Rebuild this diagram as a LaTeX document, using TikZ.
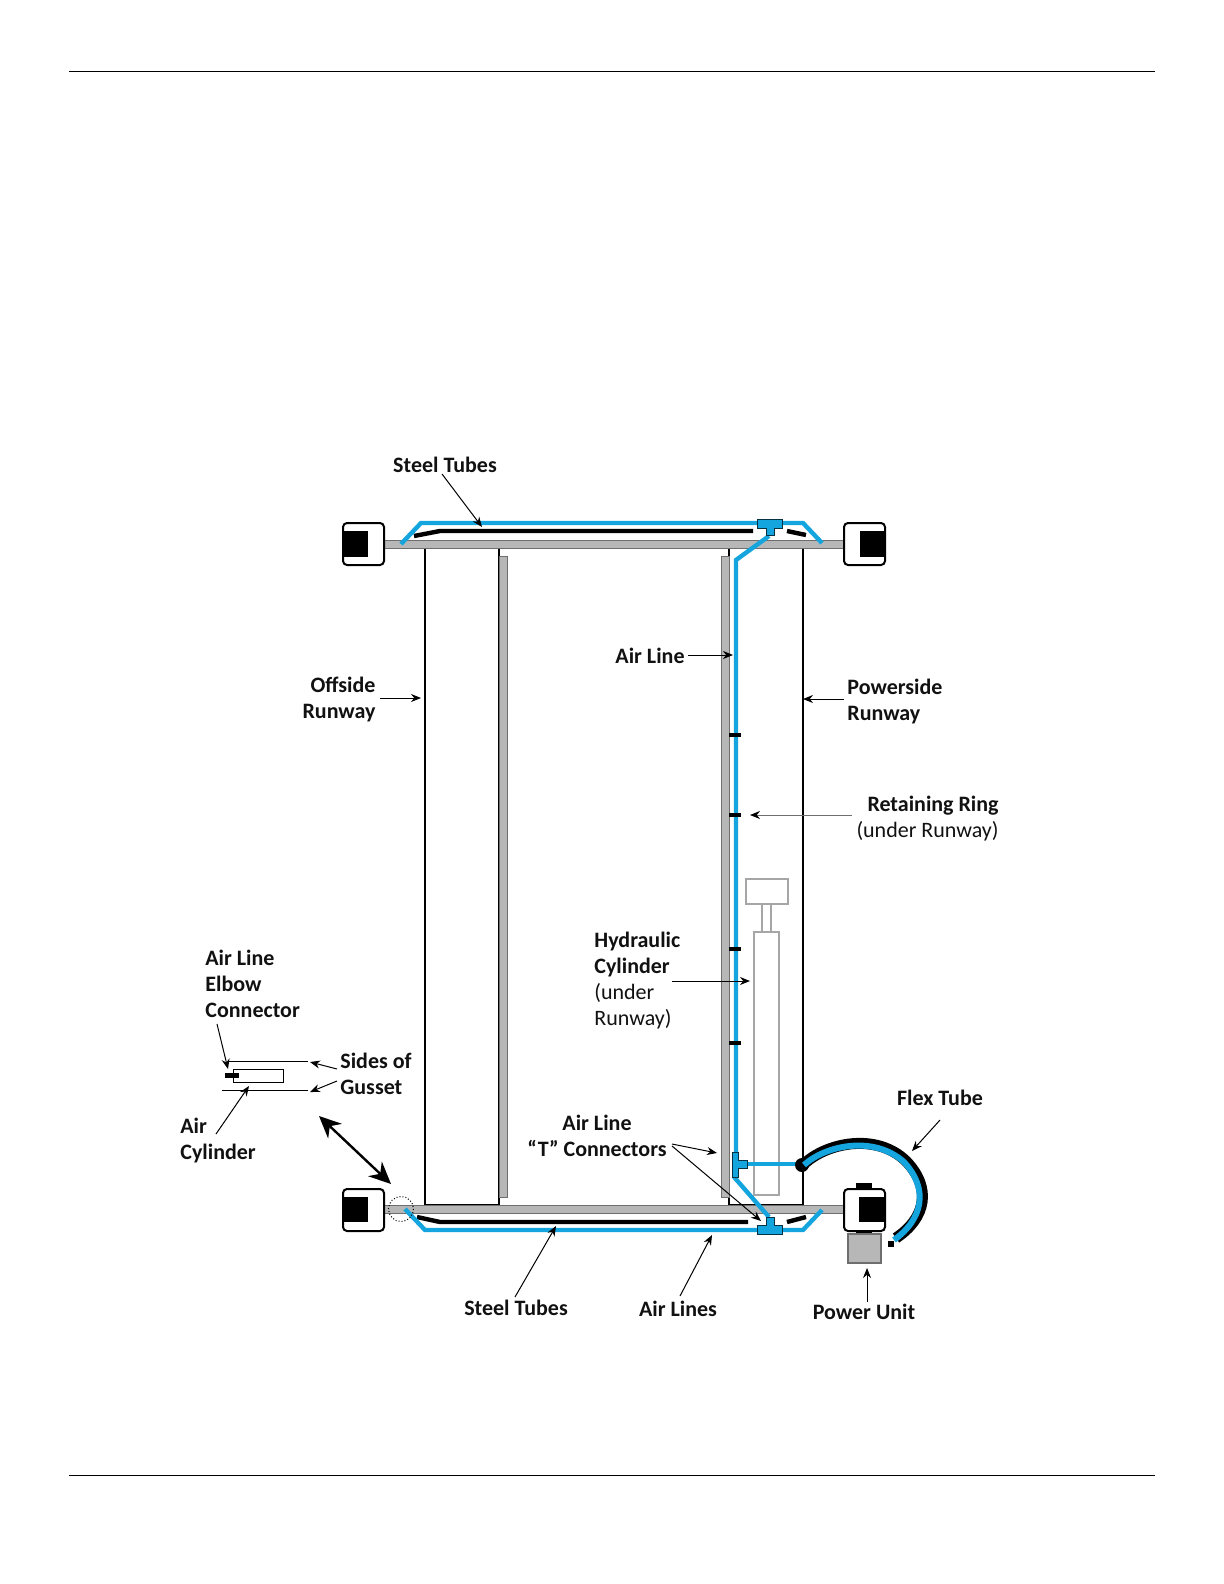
\documentclass[tikz,border=0pt]{standalone}
\usepackage{fontspec}
\setmainfont{Carlito}
\usetikzlibrary{arrows.meta, positioning}
\definecolor{airblue}{HTML}{14A5DF}
\definecolor{tubegray}{HTML}{B7B7B7}
\definecolor{edgegray}{HTML}{6E6E6E}
\definecolor{cylgray}{HTML}{A6A6A6}
\definecolor{textdark}{HTML}{111111}

\begin{document}
\begin{tikzpicture}[
  x=0.5pt, y=-0.5pt,
  font=\rmfamily,
  >=Stealth,
  every node/.style={text=textdark},
  partlabel/.style={font=\rmfamily\bfseries\fontsize{11}{13}\selectfont, inner sep=0pt, align=left},
  callout/.style={line width=0.5pt, color=black, -{Stealth[length=5pt,width=4pt]}},
  runway/.style={draw=black, line width=1pt, fill=white},
  crossbar/.style={draw=edgegray, line width=0.4pt, fill=tubegray},
  sidestrip/.style={draw=edgegray, line width=0.4pt, fill=tubegray},
  steeltube/.style={draw=black, line width=2.2pt},
  airline/.style={draw=airblue, line width=2.2pt, line join=miter},
  fitting/.style={draw=black!70!airblue, line width=0.3pt, fill=airblue},
  cornerbox/.style={draw=black, line width=1pt, rounded corners=2pt, fill=white},
  ring/.style={draw=black, line width=2.2pt},
  cylinder/.style={draw=cylgray, line width=1pt, fill=white}
]
\useasboundingbox (0,0) rectangle (1224,1584);

% ── Page rules ────────────────────────────────────────────────────────────
\draw[line width=0.5pt] (69,72) -- (1155,72);
\draw[line width=0.5pt] (69,1475) -- (1155,1475);

% ── Runways and side strips ───────────────────────────────────────────────
\draw[runway] (425,548) rectangle (499,1205);
\draw[runway] (729,548) rectangle (803,1205);
\draw[sidestrip] (499,556) rectangle (507,1197);
\draw[sidestrip] (721,556) rectangle (729,1197);

% ── Hydraulic cylinder ────────────────────────────────────────────────────
\draw[cylinder] (746,879) rectangle (788,904);
\draw[cylinder] (762,904) rectangle (771,932);
\draw[cylinder] (754,932) rectangle (779,1195);

% ── Cross bars ────────────────────────────────────────────────────────────
\draw[crossbar] (384,540) rectangle (844,548);
\draw[crossbar] (384,1205) rectangle (844,1213);

% ── Corner boxes ──────────────────────────────────────────────────────────
\fill[black] (856,1183) rectangle (872,1190);
\fill[black] (856,1228) rectangle (872,1235);
\foreach \bx/\by in {343/523, 844/523, 343/1189, 844/1189} {
  \draw[cornerbox] (\bx,\by) rectangle ++(41,42);
}
\fill[black] (343,531) rectangle (368,557);
\fill[black] (860,531) rectangle (885,557);
\fill[black] (343,1197) rectangle (368,1222);
\fill[black] (859,1197) rectangle (885,1222);

% ── Power unit ────────────────────────────────────────────────────────────
\draw[draw=edgegray, line width=0.6pt, fill=tubegray] (848,1234) rectangle (881,1263);

% ── Steel tubes ───────────────────────────────────────────────────────────
\draw[steeltube] (414,536) -- (440,531) -- (753,531);
\draw[steeltube] (787,531) -- (806,535);
\draw[steeltube] (417,1217) -- (440,1222) -- (748,1222);
\draw[steeltube] (787,1222) -- (806,1217);

% ── Air lines ─────────────────────────────────────────────────────────────
\draw[airline] (401,544) -- (421,523) -- (757,523);
\draw[airline] (782,523) -- (803,523) -- (822,543);
\draw[airline] (769,536) -- (736,560) -- (736,1152);
\draw[airline] (747,1164) -- (800,1164);
\draw[airline] (734,1177) -- (769,1217);
\draw[airline] (405,1209) -- (425,1230) -- (757,1230);
\draw[airline] (782,1230) -- (803,1230) -- (822,1210);

% ── Retaining rings ───────────────────────────────────────────────────────
\foreach \ry in {735, 815, 949, 1043} {
  \draw[ring] (729,\ry) -- (741,\ry);
}

% ── "T" connectors ────────────────────────────────────────────────────────
\draw[fitting] (757,519) -- (782,519) -- (782,528) -- (774,528) -- (774,535)
  -- (766,535) -- (766,528) -- (757,528) -- cycle;
\draw[fitting] (757,1234) -- (782,1234) -- (782,1225) -- (774,1225) -- (774,1217)
  -- (766,1217) -- (766,1225) -- (757,1225) -- cycle;
\draw[fitting] (732,1152) -- (738,1152) -- (738,1160) -- (747,1160) -- (747,1168)
  -- (738,1168) -- (738,1177) -- (732,1177) -- cycle;

% ── Flex tube ─────────────────────────────────────────────────────────────
\fill[black] (802,1165) circle (7);
\fill[black] (888,1241) rectangle (894,1247);
\draw[black, line width=5.5pt] (804,1164) .. controls (826,1143) and (876,1132) .. (906,1161)
  .. controls (932,1188) and (926,1218) .. (896,1238);
\draw[airblue, line width=3pt] (804,1165) .. controls (826,1145) and (874,1135) .. (904,1162)
  .. controls (929,1189) and (923,1219) .. (894,1240);

% ── Gusset detail ─────────────────────────────────────────────────────────
\draw[line width=0.5pt] (228,1061) -- (308,1061);
\draw[line width=0.5pt] (222,1090) -- (308,1090);
\draw[line width=0.5pt] (233,1069) rectangle (283,1082);
\fill[black] (225,1073) rectangle (239,1078);
\draw[line width=0.5pt, densely dotted] (401,1209) circle (12.5);

% ── Labels ────────────────────────────────────────────────────────────────
\node[partlabel] (steeltop) at (445,465) {Steel Tubes};
\node[partlabel] (airline) at (650,656) {Air Line};
\node[partlabel, align=right] (offside) at (339,699) {Offside\\Runway};
\node[partlabel, anchor=west] (powerside) at (847,702) {Powerside\\Runway};
\node[partlabel, align=right, anchor=east] (ring) at (999,818.5) {Retaining Ring\\{\mdseries (under Runway)}};
\node[partlabel, anchor=west] (hydraulic) at (594,980.5) {Hydraulic\\Cylinder\\{\mdseries (under}\\{\mdseries Runway)}};
\node[partlabel, align=center] (tconn) at (597,1136) {Air Line\\“T” Connectors};
\node[partlabel] (flex) at (940,1098) {Flex Tube};
\node[partlabel] (steelbot) at (516,1308) {Steel Tubes};
\node[partlabel] (airlines) at (678,1309) {Air Lines};
\node[partlabel] (power) at (864,1312) {Power Unit};
\node[partlabel, anchor=west] (elbow) at (205,984) {Air Line\\Elbow\\Connector};
\node[partlabel, anchor=west] (gusset) at (340,1073.5) {Sides of\\Gusset};
\node[partlabel, anchor=west] (aircyl) at (180,1140.5) {Air\\Cylinder};

% ── Callout arrows ────────────────────────────────────────────────────────
\draw[callout] (442,474) -- (482,527);
\draw[callout] (688,655) -- (733,655);
\draw[callout] (380,698) -- (421,698);
\draw[callout] (844,699) -- (803,699);
\draw[line width=0.5pt, color=edgegray, -{Stealth[length=5pt,width=4pt,black]}] (852,815) -- (750,815);
\draw[callout] (672,981) -- (750,981);
\draw[callout] (672,1144) -- (717,1153);
\draw[callout] (672,1146) -- (761,1221);
\draw[callout] (940,1120) -- (912,1151);
\draw[callout] (515,1297) -- (556,1226);
\draw[callout] (680,1296) -- (712,1235);
\draw[callout] (867,1302) -- (867,1268);
\draw[callout] (217,1024) -- (228,1069);
\draw[callout] (337,1069) -- (310,1062);
\draw[callout] (337,1081) -- (310,1092);
\draw[callout] (216,1134) -- (249,1086);
\draw[line width=1.2pt, {Stealth[length=11pt,width=10pt]}-{Stealth[length=11pt,width=10pt]}] (319,1116) -- (391,1184);

\end{tikzpicture}
\end{document}
